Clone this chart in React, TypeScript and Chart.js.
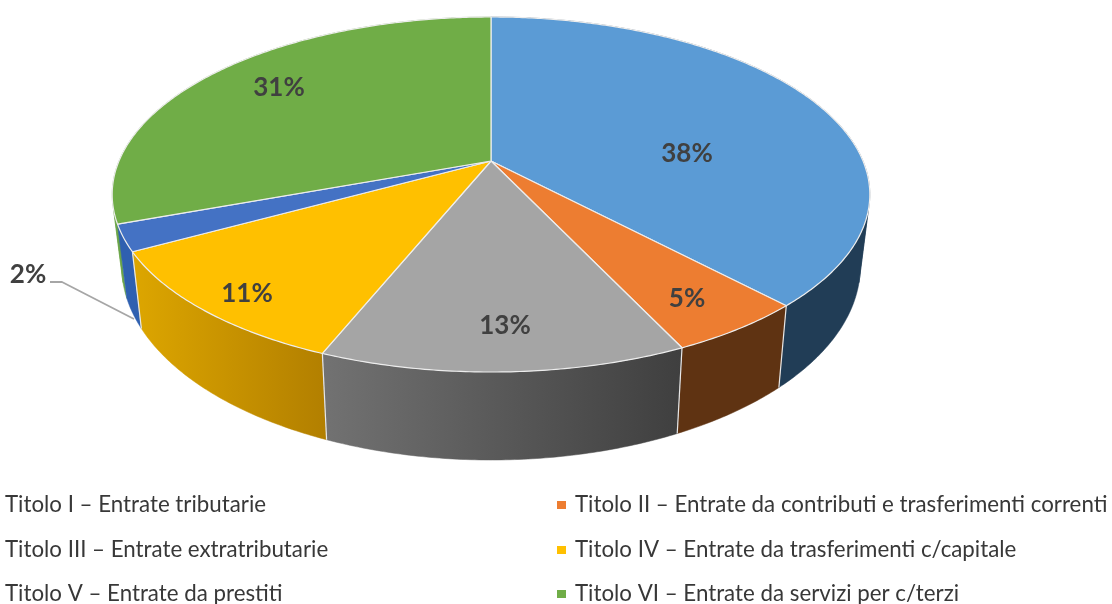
import React, { useEffect, useRef } from "react";
import { Chart, registerables } from "chart.js";

Chart.register(...registerables);

const categories = [
  "Titolo I – Entrate tributarie",
  "Titolo II – Entrate da contributi e trasferimenti correnti",
  "Titolo III – Entrate extratributarie",
  "Titolo IV – Entrate da trasferimenti c/capitale",
  "Titolo V – Entrate da prestiti",
  "Titolo VI – Entrate da servizi per c/terzi",
];
// Slice order around the pie (clockwise from 12 o'clock)
const sliceOrder = [0, 1, 3, 2, 4, 5];
const sliceValues = [38, 5, 13.1, 10.9, 2.4, 30.6];
const topColors = ["#5B9BD5", "#ED7D31", "#A5A5A5", "#FFC000", "#4472C4", "#70AD47"];
const sideFrom = ["#213D56", "#5F3312", "#727272", "#DDA600", "#2F60B0", "#6BA548"];
const sideTo = ["#213D56", "#5F3312", "#3F3F3F", "#B27F00", "#2F60B0", "#5E9A3C"];
const legendColors = ["#5B9BD5", "#ED7D31", "#A5A5A5", "#FFC000", "#4472C4", "#70AD47"];

const view = {
  cx: 491, cy: 161, ax: 372, ay: 171.2, k: 0.1887,
  sideScaleX: 0.975, sideCy: 229.5, sideAy: 187, foldSin: 0.27,
};
const labelSpots = [
  [687, 153.5], [687, 299], [505, 326], [247, 293.5], [28, 275], [279, 88],
];
const leaderPath = [[50, 282], [62, 282], [134, 319]];
const legendSpots = [
  [5, 505], [575, 505], [5, 550], [575, 550], [5, 594], [575, 594],
];

const project = (a: number, r = 1) => {
  const x = Math.cos(a) * r, y = Math.sin(a) * r;
  const w = 1 - view.k * y;
  return [view.cx + (view.ax * x) / w, view.cy + (view.ay * y) / w];
};
const projectBase = (a: number) => {
  const x = Math.cos(a), y = Math.sin(a);
  const w = 1 - view.k * y;
  return [view.cx + (view.sideScaleX * view.ax * x) / w, view.sideCy + (view.sideAy * y) / w];
};
const rim = (s: number, e: number, fn: (a: number) => number[]) => {
  const n = Math.max(2, Math.ceil((e - s) / 0.01));
  const pts: number[][] = [];
  for (let i = 0; i <= n; i++) pts.push(fn(s + ((e - s) * i) / n));
  return pts;
};

const pie3d = {
  id: "pie3d",
  beforeDatasetsDraw(chart: any) {
    const ctx = chart.ctx;
    const arcs = chart.getDatasetMeta(0).data.map((el: any, i: number) => ({
      i,
      s: el.startAngle,
      e: el.endAngle,
    }));
    const depth = (o: any) => {
      let m = Math.max(Math.sin(o.s), Math.sin(o.e));
      if (o.s < Math.PI / 2 && o.e > Math.PI / 2) m = 1;
      return m;
    };
    const fold = Math.asin(view.foldSin);
    const folds = [fold, Math.PI - fold];
    ctx.save();
    // side walls, back to front; split at the silhouette so each piece is a simple polygon
    [...arcs].sort((a, b) => depth(a) - depth(b)).forEach((o) => {
      const cuts = [o.s, ...folds.filter((f) => f > o.s && f < o.e), o.e];
      const whole = rim(o.s, o.e, project).concat(rim(o.s, o.e, projectBase)).map((p) => p[0]);
      const g = ctx.createLinearGradient(Math.min(...whole), 0, Math.max(...whole), 0);
      g.addColorStop(0, sideFrom[o.i]);
      g.addColorStop(1, sideTo[o.i]);
      ctx.fillStyle = g;
      ctx.strokeStyle = g;
      ctx.lineWidth = 0.5;
      for (let c = 0; c < cuts.length - 1; c++) {
        const top = rim(cuts[c], cuts[c + 1], project);
        const base = rim(cuts[c], cuts[c + 1], projectBase).reverse();
        ctx.beginPath();
        top.forEach((p, j) => (j ? ctx.lineTo(p[0], p[1]) : ctx.moveTo(p[0], p[1])));
        base.forEach((p) => ctx.lineTo(p[0], p[1]));
        ctx.closePath();
        ctx.fill();
        ctx.stroke();
      }
    });
    // seams on the front wall
    ctx.strokeStyle = "#E8E8E8";
    ctx.lineWidth = 1.2;
    arcs.forEach((o) => {
      if (Math.sin(o.s) > 0.45) {
        const a = project(o.s), b = projectBase(o.s);
        ctx.beginPath();
        ctx.moveTo(a[0], a[1]);
        ctx.lineTo(b[0], b[1]);
        ctx.stroke();
      }
    });
    // top face
    arcs.forEach((o) => {
      const top = rim(o.s, o.e, project);
      ctx.beginPath();
      ctx.moveTo(view.cx, view.cy);
      top.forEach((p) => ctx.lineTo(p[0], p[1]));
      ctx.closePath();
      ctx.fillStyle = topColors[o.i];
      ctx.fill();
      ctx.strokeStyle = "#EDEDED";
      ctx.lineWidth = 1.2;
      ctx.lineJoin = "round";
      ctx.stroke();
    });
    // leader line
    ctx.strokeStyle = "#A6A6A6";
    ctx.lineWidth = 1.8;
    ctx.beginPath();
    leaderPath.forEach((p, j) => (j ? ctx.lineTo(p[0], p[1]) : ctx.moveTo(p[0], p[1])));
    ctx.stroke();
    // value labels
    ctx.fillStyle = "#404040";
    ctx.font = "bold 26px Lato";
    ctx.textAlign = "center";
    ctx.textBaseline = "middle";
    sliceValues.forEach((v, i) =>
      ctx.fillText(`${Math.round(v)}%`, labelSpots[i][0], labelSpots[i][1])
    );
    // legend
    ctx.font = "22.3px Lato";
    ctx.textAlign = "left";
    categories.forEach((c, i) => {
      const [x, y] = legendSpots[i];
      ctx.fillStyle = legendColors[i];
      ctx.fillRect(x - 18, y - 4, 9, 8);
      ctx.fillStyle = "#383838";
      ctx.fillText(c, x, y);
    });
    ctx.restore();
    return false;
  },
};

export default function App() {
  const ref = useRef<HTMLCanvasElement>(null);
  useEffect(() => {
    const chart = new Chart(ref.current!, {
      type: "pie",
      data: {
        labels: sliceOrder.map((i) => categories[i]),
        datasets: [{ data: sliceValues, backgroundColor: topColors }],
      },
      options: {
        responsive: false,
        animation: false,
        plugins: { legend: { display: false }, tooltip: { enabled: false } },
      },
      plugins: [pie3d],
    } as any);
    return () => chart.destroy();
  }, []);
  return (
    <canvas
      ref={ref}
      width={1112}
      height={604}
      style={{ position: "absolute", left: 0, top: 0, filter: "blur(0.5px)" }}
    />
  );
}
